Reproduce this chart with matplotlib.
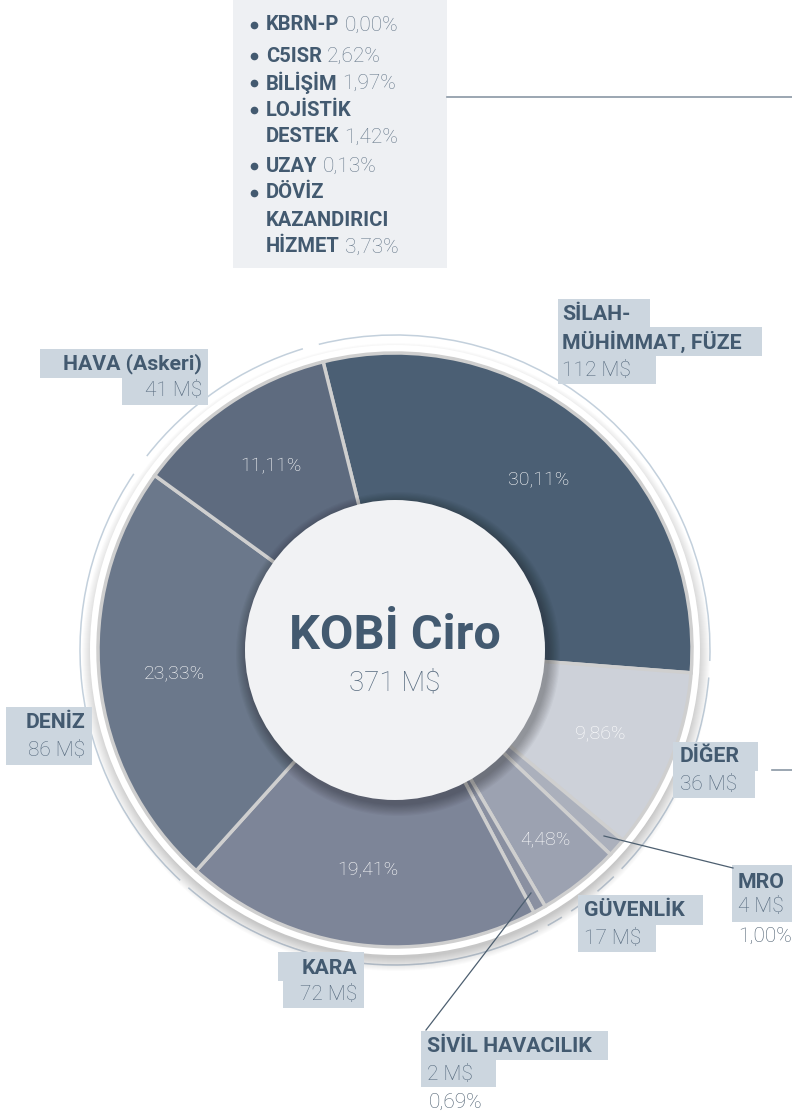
import numpy as np
import matplotlib.pyplot as plt
from matplotlib.patches import Circle, Rectangle, Arc

plt.rcParams['font.family'] = ['Roboto', 'DejaVu Sans']

# Dilimler (saat yönünde, üstten başlayarak)
sectors = ['SİLAH-\nMÜHİMMAT, FÜZE', 'DİĞER', 'MRO', 'GÜVENLİK',
           'SİVİL HAVACILIK', 'KARA', 'DENİZ', 'HAVA (Askeri)']
shares = [30.11, 9.86, 1.00, 4.48, 0.69, 19.41, 23.33, 11.11]
values_musd = [112, 36, 4, 17, 2, 72, 86, 41]
colors = ['#4b5f74', '#cdd1d9', '#abb0bc', '#9ca2b1',
          '#8a90a1', '#7d8598', '#6b788b', '#5e6b7f']

# DİĞER içindeki kalemler
other_items = ['KBRN-P', 'C5ISR', 'BİLİŞİM', 'LOJİSTİK\nDESTEK', 'UZAY',
               'DÖVİZ\nKAZANDIRICI\nHİZMET']
other_shares = ['0,00%', '2,62%', '1,97%', '1,42%', '0,13%', '3,73%']

total_title = 'KOBİ Ciro'
total_value = '371 M$'

W, H = 792, 1115
fig = plt.figure(figsize=(W / 100, H / 100), dpi=100)
ax = fig.add_axes([0, 0, 1, 1])


def Y(y):
    return H - y


dark = '#435a70'
light = '#566a7e'
box = '#ccd6df'

cx, cy = 395, Y(650)
R = 297
start = 104

# dış ince çember (parçalı)
for a1, a2 in [(107, 142), (146, 227), (229, 297), (299, 302), (304, 308),
               (310, 314), (316, 355), (358, 104)]:
    ax.add_patch(Arc((cx, cy), 2 * 315, 2 * 315, theta1=a1, theta2=a2,
                     color='#c3d0dc', lw=1.1, zorder=1))

# gölge ve beyaz halka
for i in range(14):
    ax.add_patch(Circle((cx + 1, cy - 7), 314 - i * 1.0, color='#000000',
                        alpha=0.014, lw=0, zorder=2))
ax.add_patch(Circle((cx, cy), 305, color='white', lw=0, zorder=3))

wedges, _ = ax.pie(shares, colors=colors, startangle=start, counterclock=False,
                   radius=R, center=(cx, cy), frame=True,
                   wedgeprops=dict(edgecolor='#cfcfcf', linewidth=2.5))
for w in wedges:
    w.set_zorder(4)
ax.set_xlim(0, W)
ax.set_ylim(0, H)
ax.set_aspect('equal')
ax.axis('off')

# yüzde etiketleri
cum = 0
for s, w in zip(shares, wedges):
    mid = np.deg2rad(start - (cum + s / 2) / 100 * 360)
    cum += s
    if s < 3:
        continue
    r = 242 if s < 6 else 222
    ax.text(cx + r * np.cos(mid), cy + r * np.sin(mid),
            f'{s:.2f}%'.replace('.', ','), color='white', fontsize=14,
            fontweight='light', ha='center', va='center', zorder=6)

# merkez daire ve gölgesi
for i in range(10):
    ax.add_patch(Circle((cx + 3, cy - 4), 162 - i * 1.2, color='#000000',
                        alpha=0.03, lw=0, zorder=5))
ax.add_patch(Circle((cx, cy), 150, color='#f1f2f4', lw=0, zorder=5))
ax.text(cx, Y(636), total_title, fontsize=35, fontweight='bold', color=dark,
        ha='center', va='center', zorder=6)
ax.text(cx, Y(683), total_value, fontsize=20, fontweight='light', color=light,
        ha='center', va='center', zorder=6)


def rect(x0, y0, x1, y1, c=box, z=7):
    ax.add_patch(Rectangle((x0, Y(y1)), x1 - x0, y1 - y0, color=c, lw=0, zorder=z))


def label(lines, x, ha, y_list):
    for (txt, bold), yy in zip(lines, y_list):
        ax.text(x, Y(yy), txt, fontsize=15.3 if bold else 15, ha=ha, va='center',
                fontweight='bold' if bold else 'light',
                color=dark if bold else light, zorder=8)


def musd(i):
    return f'{values_musd[i]} M$'


def pct(i):
    return f'{shares[i]:.2f}%'.replace('.', ',')


# SİLAH
rect(558, 299, 650, 328); rect(558, 327, 762, 356); rect(558, 355, 656, 384)
l1, l2 = sectors[0].split('\n')
label([(l1, True), (l2, True), (musd(0), False)], 562, 'left', [314, 342, 370])
# HAVA
rect(40, 349, 208, 378); rect(122, 377, 208, 405)
label([(sectors[7], True), (musd(7), False)], 202, 'right', [364, 391])
# DENİZ
rect(6, 707, 92, 765)
label([(sectors[6], True), (musd(6), False)], 85, 'right', [722, 751])
# KARA
rect(278, 952, 364, 981); rect(283, 980, 364, 1008)
label([(sectors[5], True), (musd(5), False)], 357, 'right', [968, 995])
# SİVİL HAVACILIK
rect(421, 1031, 608, 1060); rect(421, 1059, 496, 1087)
label([(sectors[4], True), (musd(4), False)], 427, 'left', [1047, 1074])
ax.text(429, Y(1102), pct(4), fontsize=15, color='#4f6172', fontweight='light',
        ha='left', va='center', zorder=8)
ax.plot([531, 426], [Y(893), Y(1030)], color='#4d5f70', lw=0.9, zorder=7)
# GÜVENLİK
rect(578, 895, 703, 925); rect(578, 924, 656, 952)
label([(sectors[3], True), (musd(3), False)], 584, 'left', [911, 938])
# MRO
rect(732, 865, 792, 922)
label([(sectors[2], True), (musd(2), False)], 738, 'left', [882, 907])
ax.text(738, Y(936), pct(2), fontsize=15, color='#4f6172', fontweight='light',
        ha='left', va='center', zorder=8)
ax.plot([604, 733], [Y(836), Y(868)], color='#4d5f70', lw=0.9, zorder=7)
# DİĞER
rect(673, 742, 758, 771); rect(673, 770, 755, 798)
label([(sectors[1], True), (musd(1), False)], 680, 'left', [757, 785])
ax.plot([772, 792], [Y(770), Y(770)], color='#8a97a4', lw=1.2, zorder=7)

# DİĞER kırılımı kutusu
rect(233, 0, 447, 268, c='#eef0f3', z=1)
ax.plot([447, 792], [Y(97), Y(97)], color='#8a97a4', lw=1.2, zorder=2)
ys = [25, 56, 83, 110, 166, 193]
step = 27
fig.canvas.draw()
for name, sh, yy in zip(other_items, other_shares, ys):
    parts = name.split('\n')
    ax.plot(254, Y(yy), 'o', ms=4.5, color=dark, zorder=3)
    for k, p in enumerate(parts):
        t = ax.text(266, Y(yy + k * step), p, fontsize=14.5, fontweight='bold',
                    color=dark, ha='left', va='center', zorder=3)
    # yüzde son satırın sonunda
    last_y = yy + (len(parts) - 1) * step
    bb = t.get_window_extent(renderer=fig.canvas.get_renderer())
    x_end = bb.x1 / fig.dpi * 100
    ax.text(x_end + 5, Y(last_y), sh, fontsize=15, fontweight='light',
            color='#66788a', ha='left', va='center', zorder=3)

fig.savefig('out.png', dpi=100)
